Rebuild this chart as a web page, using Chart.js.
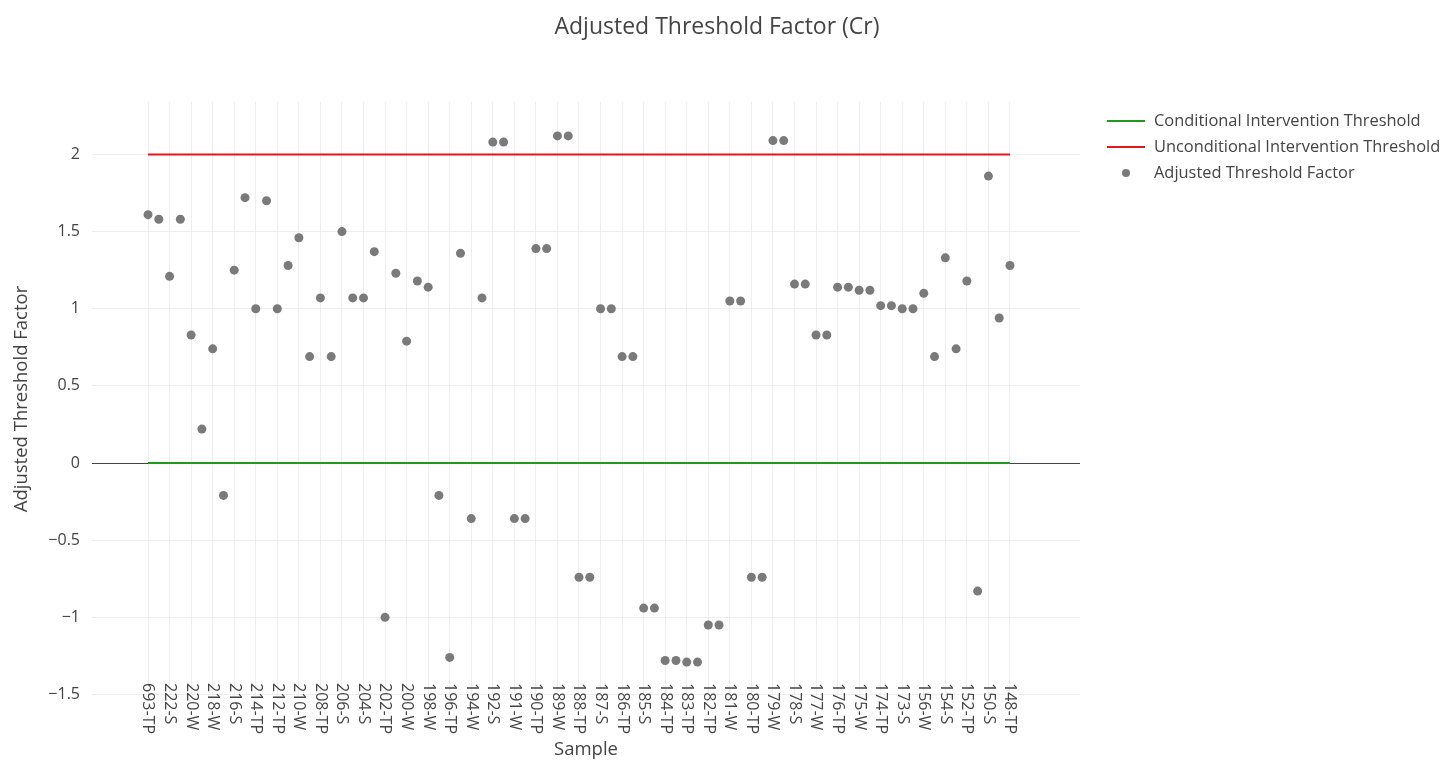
<!DOCTYPE html>
<html>
<head>
<meta charset="utf-8">
<title>Adjusted Threshold Factor (Cr)</title>
<script src="https://cdn.jsdelivr.net/npm/chart.js@4.4.1/dist/chart.umd.min.js"></script>
<style>
  html, body { margin: 0; padding: 0; background: #fff; }
  canvas { display: block; }
</style>
</head>
<body>
<canvas id="chart" width="1442" height="761"></canvas>
<script>
const chartTitle = 'Adjusted Threshold Factor (Cr)';

// every second sample gets a tick label on the x axis
const tickLabels = [
  '693-TP', '222-S', '220-W', '218-W', '216-S', '214-TP', '212-TP', '210-W', '208-TP', '206-S',
  '204-S', '202-TP', '200-W', '198-W', '196-TP', '194-W', '192-S', '191-W', '190-TP', '189-W',
  '188-TP', '187-S', '186-TP', '185-S', '184-TP', '183-TP', '182-TP', '181-W', '180-TP', '179-W',
  '178-S', '177-W', '176-TP', '175-W', '174-TP', '173-S', '156-W', '154-S', '152-TP', '150-S',
  '148-TP'
];

const factorValues = [
  1.61, 1.58, 1.21, 1.58, 0.83, 0.22, 0.74, -0.21, 1.25, 1.72,
  1.00, 1.70, 1.00, 1.28, 1.46, 0.69, 1.07, 0.69, 1.50, 1.07,
  1.07, 1.37, -1.00, 1.23, 0.79, 1.18, 1.14, -0.21, -1.26, 1.36,
  -0.36, 1.07, 2.08, 2.08, -0.36, -0.36, 1.39, 1.39, 2.12, 2.12,
  -0.74, -0.74, 1.00, 1.00, 0.69, 0.69, -0.94, -0.94, -1.28, -1.28,
  -1.29, -1.29, -1.05, -1.05, 1.05, 1.05, -0.74, -0.74, 2.09, 2.09,
  1.16, 1.16, 0.83, 0.83, 1.14, 1.14, 1.12, 1.12, 1.02, 1.02,
  1.00, 1.00, 1.10, 0.69, 1.33, 0.74, 1.18, -0.83, 1.86, 0.94,
  1.28
];

const conditionalThreshold = 0;
const unconditionalThreshold = 2;

const TEXT = '#444';
const GRID = '#eeeeee';

const points = factorValues.map((v, i) => ({x: i, y: v}));
const conditionalLine = factorValues.map((_, i) => ({x: i, y: conditionalThreshold}));
const unconditionalLine = factorValues.map((_, i) => ({x: i, y: unconditionalThreshold}));

Chart.defaults.font.family = '"Open Sans", sans-serif';
Chart.defaults.color = TEXT;

// title, legend and the rotated x labels (top-to-bottom like the original)
const decorPlugin = {
  id: 'decor',
  afterDraw(chart) {
    const ctx = chart.ctx;
    ctx.save();
    ctx.fillStyle = TEXT;
    ctx.textBaseline = 'middle';

    ctx.font = '23px "Open Sans"';
    ctx.textAlign = 'center';
    ctx.fillText(chartTitle, 717, 27);

    ctx.font = '16.4px "Open Sans"';
    ctx.textAlign = 'left';
    chart.data.datasets.forEach((ds, k) => {
      const y = 121 + k * 26;
      if (ds.showLine) {
        ctx.strokeStyle = ds.borderColor;
        ctx.lineWidth = 2;
        ctx.beginPath();
        ctx.moveTo(1107, y);
        ctx.lineTo(1145, y);
        ctx.stroke();
      } else {
        ctx.fillStyle = ds.backgroundColor;
        ctx.beginPath();
        ctx.arc(1126, y, 4, 0, Math.PI * 2);
        ctx.fill();
      }
      ctx.fillStyle = TEXT;
      ctx.fillText(ds.label, 1154, y);
    });

    const xs = chart.scales.x;
    ctx.font = '16px "Open Sans"';
    xs.ticks.forEach(t => {
      const px = xs.getPixelForValue(t.value);
      ctx.save();
      ctx.translate(px, 683);
      ctx.rotate(Math.PI / 2);
      ctx.textAlign = 'left';
      ctx.fillText(tickLabels[t.value / 2], 0, 0);
      ctx.restore();
    });
    ctx.restore();
  }
};

new Chart(document.getElementById('chart'), {
  type: 'scatter',
  data: {
    datasets: [{
      label: 'Conditional Intervention Threshold',
      data: conditionalLine,
      showLine: true,
      borderColor: '#1f9a1f',
      borderWidth: 2,
      pointRadius: 0,
      pointHoverRadius: 0
    }, {
      label: 'Unconditional Intervention Threshold',
      data: unconditionalLine,
      showLine: true,
      borderColor: '#e0191f',
      borderWidth: 2,
      pointRadius: 0,
      pointHoverRadius: 0
    }, {
      label: 'Adjusted Threshold Factor',
      data: points,
      showLine: false,
      backgroundColor: 'rgb(122,122,122)',
      borderWidth: 0,
      pointRadius: 4.5,
      pointHoverRadius: 4.5
    }]
  },
  options: {
    responsive: false,
    animation: false,
    layout: {padding: {top: 102, right: 362, left: 0, bottom: 0}},
    plugins: {
      legend: {display: false},
      title: {display: false},
      tooltip: {enabled: false}
    },
    scales: {
      x: {
        type: 'linear',
        min: -5.2,
        max: 86.5,
        afterBuildTicks: scale => {
          scale.ticks = tickLabels.map((_, k) => ({value: k * 2}));
        },
        afterFit: scale => { scale.height = 65; },
        ticks: {display: false},
        grid: {color: GRID, lineWidth: 1, drawTicks: false},
        border: {display: false},
        title: {
          display: true,
          text: 'Sample',
          color: TEXT,
          font: {size: 18.5},
          padding: {top: 0, bottom: 0}
        }
      },
      y: {
        min: -1.51,
        max: 2.34,
        afterFit: scale => { scale.width = 92; },
        ticks: {
          stepSize: 0.5,
          includeBounds: false,
          padding: 12,
          color: TEXT,
          font: {size: 16},
          callback: v => String(v).replace('-', '\u2212')
        },
        grid: {
          color: c => (c.tick && c.tick.value === 0) ? '#444' : GRID,
          lineWidth: 1,
          drawTicks: false
        },
        border: {display: false},
        title: {
          display: true,
          text: 'Adjusted Threshold Factor',
          color: TEXT,
          font: {size: 18.5},
          padding: {top: 11, bottom: 0}
        }
      }
    }
  },
  plugins: [decorPlugin]
});
</script>
</body>
</html>
